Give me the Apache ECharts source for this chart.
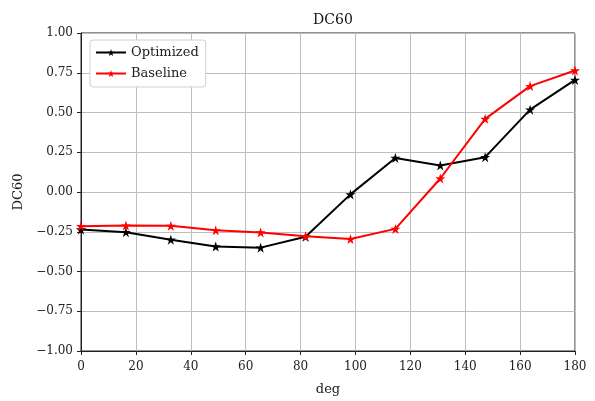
<!DOCTYPE html>
<html>
<head>
<meta charset="utf-8">
<script src="https://cdn.jsdelivr.net/npm/echarts@6/dist/echarts.min.js"></script>
<style>
  html, body { margin: 0; padding: 0; background: #fff; }
  #chart { width: 595px; height: 401px; }
</style>
</head>
<body>
<div id="chart"></div>
<script>
// Sample angles (deg) and DC60 values for both designs
const angles = [0, 16.36, 32.73, 49.09, 65.45, 81.82, 98.18, 114.55, 130.91, 147.27, 163.64, 180];
const optimized = [-0.236, -0.253, -0.300, -0.343, -0.350, -0.282, -0.015, 0.214, 0.167, 0.219, 0.518, 0.705];
const baseline = [-0.215, -0.211, -0.213, -0.241, -0.254, -0.279, -0.296, -0.232, 0.085, 0.460, 0.666, 0.764];
const xTicks = [0, 20, 40, 60, 80, 100, 120, 140, 160, 180];
const yTicks = [-1, -0.75, -0.5, -0.25, 0, 0.25, 0.5, 0.75, 1];

const FONT = 'DejaVu Serif';
const STAR = 'path://M50,0 L61.8,35.5 L99,35.5 L68.9,57.4 L80.4,92.7 L50,70.8 L19.6,92.7 L31.1,57.4 L1,35.5 L38.2,35.5 Z';

function fmt(v) {
  const s = Math.abs(v).toFixed(2);
  return v < 0 ? '\u2212' + s : s;
}
function pairs(ys) { return angles.map((a, i) => [a, ys[i]]); }

const chart = echarts.init(document.getElementById('chart'), null, { renderer: 'canvas' });
chart.setOption({
  animation: false,
  backgroundColor: '#fff',
  title: {
    text: 'DC60', left: 328, top: 8, textAlign: 'center',
    textStyle: { fontFamily: FONT, fontSize: 14, fontWeight: 'normal', color: '#111' }
  },
  legend: {
    orient: 'vertical', left: 90, top: 40,
    itemWidth: 30, itemHeight: 9, itemGap: 8,
    padding: [6, 7, 7, 5],
    backgroundColor: '#fff', borderColor: '#d0d0d0', borderWidth: 1, borderRadius: 3,
    textStyle: { fontFamily: FONT, fontSize: 13, color: '#222' },
    data: ['Optimized', 'Baseline']
  },
  grid: {
    left: 81, right: 20, top: 33, bottom: 49, show: true,
    borderColor: '#222', borderWidth: 1, containLabel: false
  },
  xAxis: {
    type: 'value', min: xTicks[0], max: xTicks[xTicks.length - 1], interval: 20,
    name: 'deg', nameLocation: 'middle', nameGap: 32,
    nameTextStyle: { fontFamily: FONT, fontSize: 13, color: '#222' },
    axisLine: { show: true, onZero: false, lineStyle: { color: '#222', width: 1 } },
    axisTick: { show: true, length: 4, lineStyle: { color: '#222' } },
    axisLabel: { fontFamily: FONT, fontSize: 12, color: '#222', margin: 10 },
    splitLine: { show: true, lineStyle: { color: '#bdbdbd', width: 1 } }
  },
  yAxis: {
    type: 'value', min: yTicks[0], max: yTicks[yTicks.length - 1], interval: 0.25,
    name: 'DC60', nameLocation: 'middle', nameGap: 52, nameRotate: 90,
    nameTextStyle: { fontFamily: FONT, fontSize: 13, color: '#222' },
    axisLine: { show: true, onZero: false, lineStyle: { color: '#222', width: 1 } },
    axisTick: { show: true, length: 4, lineStyle: { color: '#222' } },
    axisLabel: { fontFamily: FONT, fontSize: 12, color: '#222', margin: 8, formatter: fmt },
    splitLine: { show: true, lineStyle: { color: '#bdbdbd', width: 1 } }
  },
  series: [
    {
      name: 'Optimized', type: 'line', data: pairs(optimized),
      symbol: STAR, symbolSize: 10, showAllSymbol: true,
      lineStyle: { color: '#000', width: 2 },
      itemStyle: { color: '#000' }, z: 3
    },
    {
      name: 'Baseline', type: 'line', data: pairs(baseline),
      symbol: STAR, symbolSize: 10, showAllSymbol: true,
      lineStyle: { color: '#ff0000', width: 2 },
      itemStyle: { color: '#ff0000' }, z: 4
    }
  ]
});
</script>
</body>
</html>
